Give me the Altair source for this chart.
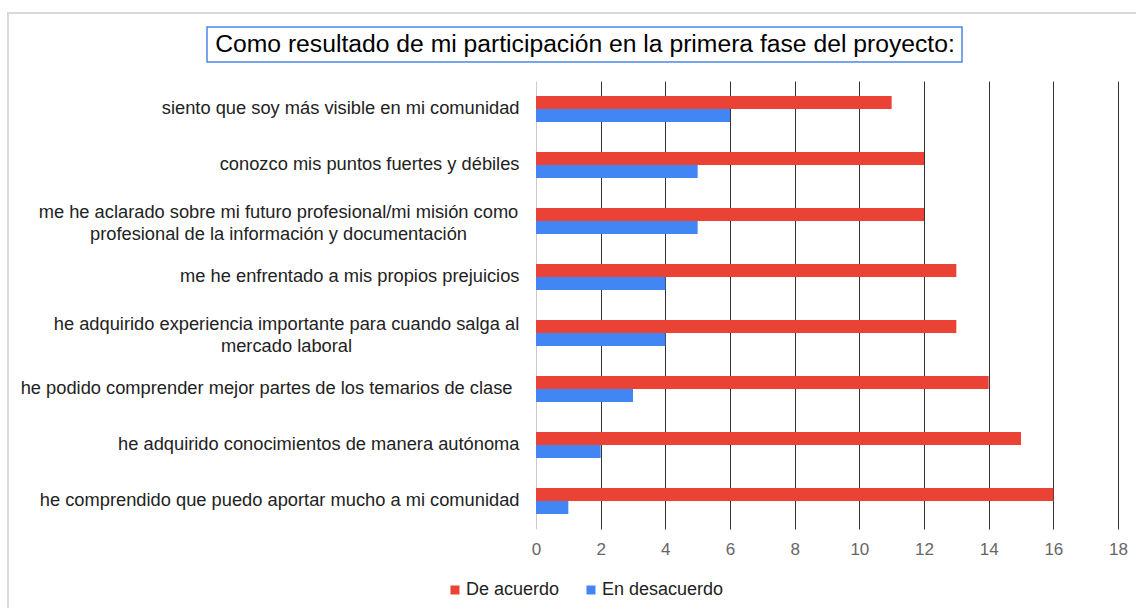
import altair as alt
import pandas as pd

categories = [
    "siento que soy más visible en mi comunidad",
    "conozco mis puntos fuertes y débiles",
    "me he aclarado sobre mi futuro profesional/mi misión como|profesional de la información y documentación",
    "me he enfrentado a mis propios prejuicios",
    "he adquirido experiencia importante para cuando salga al|mercado laboral",
    "he podido comprender mejor partes de los temarios de clase ",
    "he adquirido conocimientos de manera autónoma",
    "he comprendido que puedo aportar mucho a mi comunidad",
]
de_acuerdo = [11, 12, 12, 13, 13, 14, 15, 16]
en_desacuerdo = [6, 5, 5, 4, 4, 3, 2, 1]
series = ["De acuerdo", "En desacuerdo"]
colors = ["#EA4335", "#4285F4"]
x_ticks = [0, 2, 4, 6, 8, 10, 12, 14, 16, 18]
title_text = "Como resultado de mi participación en la primera fase del proyecto:"

rows = []
for c, a, d in zip(categories, de_acuerdo, en_desacuerdo):
    rows.append({"cat": c, "serie": series[0], "valor": a})
    rows.append({"cat": c, "serie": series[1], "valor": d})
df = pd.DataFrame(rows)

FONT = "Liberation Sans, Arial, sans-serif"

bars = alt.Chart(df).mark_bar().encode(
    y=alt.Y(
        "cat:N",
        sort=categories,
        scale=alt.Scale(paddingInner=0.54, paddingOuter=0.27),
        axis=alt.Axis(
            title=None,
            domain=False,
            ticks=False,
            labelFont=FONT,
            labelFontSize=18.3,
            labelColor="#222222",
            labelLimit=0,
            labelLineHeight=22,
            labelExpr="split(datum.label, '|')",
            labelAlign={
                "condition": {"test": "indexof(datum.value, '|') >= 0", "value": "center"},
                "value": "right",
            },
            labelOffset={
                "condition": {"test": "indexof(datum.value, '|') >= 0", "value": -8},
                "value": 0,
            },
            labelPadding={
                "condition": [
                    {"test": "indexof(datum.value, 'aclarado') >= 0", "value": 258},
                    {"test": "indexof(datum.value, 'salga') >= 0", "value": 250},
                    {"test": "indexof(datum.value, 'temarios') >= 0", "value": 24},
                ],
                "value": 17,
            },
        ),
    ),
    yOffset=alt.YOffset("serie:N", sort=series,
                        scale=alt.Scale(paddingInner=0, paddingOuter=0)),
    x=alt.X(
        "valor:Q",
        scale=alt.Scale(domain=[0, 18], nice=False),
        axis=alt.Axis(
            title=None,
            values=x_ticks,
            domain=False,
            ticks=False,
            labelFlush=False,
            labelFont=FONT,
            labelFontSize=17,
            labelColor="#666666",
            labelPadding=12,
            grid=True,
            gridOpacity=1,
            gridWidth=1,
            gridColor={
                "condition": {"test": "datum.value == 0", "value": "#cccccc"},
                "value": "#333333",
            },
        ),
    ),
    color=alt.Color(
        "serie:N",
        scale=alt.Scale(domain=series, range=colors),
        legend=alt.Legend(
            title=None,
            orient="none",
            legendX=-90,
            legendY=500,
            direction="horizontal",
            symbolType="square",
            symbolSize=81,
            symbolStrokeWidth=0,
            labelFont=FONT,
            labelFontSize=18,
            labelColor="#222222",
            labelOffset=2,
            columnPadding=22,
            padding=0,
        ),
    ),
)

deco_df = pd.DataFrame({"k": [0]})

frame = alt.Chart(deco_df).mark_rect(
    fillOpacity=0, stroke="#d9d9d9", strokeWidth=2
).encode(
    x=alt.value(-528), x2=alt.value(620), y=alt.value(-68), y2=alt.value(560)
)

title_box = alt.Chart(deco_df).mark_rect(
    fillOpacity=0, stroke="#4A86E8", strokeWidth=1.5
).encode(
    x=alt.value(-329), x2=alt.value(426), y=alt.value(-54), y2=alt.value(-19)
)

title = alt.Chart(deco_df).mark_text(
    align="center", baseline="middle", fontSize=24.7, font=FONT, color="#000000"
).encode(
    x=alt.value(49), y=alt.value(-36), text=alt.value(title_text)
)

chart = alt.layer(frame, title_box, title, bars).properties(
    width=582,
    height=448,
    autosize=alt.AutoSizeParams(type="none"),
    padding={"left": 536, "top": 81, "right": 18, "bottom": 79},
    background="white",
).configure_view(stroke=None)

chart.save("out.html", embed_options={"renderer": "svg", "actions": False})
